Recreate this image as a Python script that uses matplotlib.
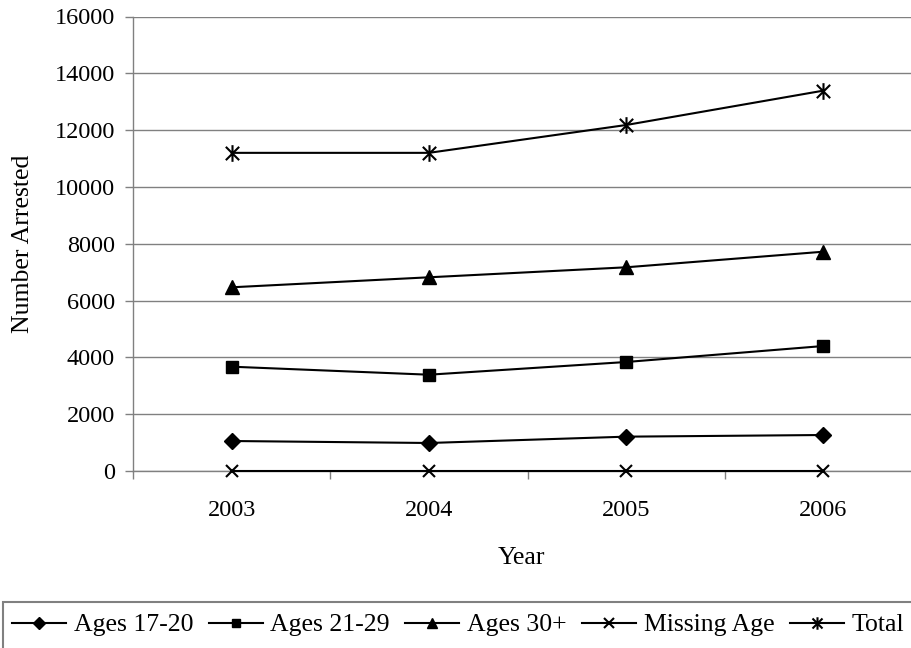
import matplotlib.pyplot as plt
import numpy as np
from matplotlib.path import Path
from matplotlib.patches import Rectangle

plt.rcParams['font.family'] = ['Liberation Serif', 'DejaVu Serif']

years = ['2003', '2004', '2005', '2006']
ages_17_20 = [1056, 986, 1209, 1267]
ages_21_29 = [3672, 3390, 3837, 4400]
ages_30_plus = [6467, 6819, 7171, 7720]
missing_age = [0, 0, 0, 0]
total = [11200, 11200, 12180, 13390]

# six-armed asterisk marker: an x with a vertical bar through it
star_path = Path(
    [(-1, -1), (1, 1), (-1, 1), (1, -1), (0, -1.25), (0, 1.25)],
    [Path.MOVETO, Path.LINETO, Path.MOVETO, Path.LINETO, Path.MOVETO, Path.LINETO])

def main():
    W, H = 911, 648
    fig = plt.figure(figsize=(W / 100, H / 100), dpi=100)
    # plot area runs past the right edge, like the cropped original
    ax = fig.add_axes([133 / W, 1 - 471 / H, (922 - 133) / W, (471 - 16.5) / H])

    x = np.arange(len(years))
    lw = 1.5
    series = [
        (ages_17_20, 'Ages 17-20', dict(marker='D', markersize=8)),
        (ages_21_29, 'Ages 21-29', dict(marker='s', markersize=8)),
        (ages_30_plus, 'Ages 30+', dict(marker='^', markersize=10)),
        (missing_age, 'Missing Age', dict(marker='x', markersize=9, markeredgewidth=1.5)),
        (total, 'Total', dict(marker=star_path, markersize=12, markeredgewidth=1.5,
                              markerfacecolor='none')),
    ]
    for vals, name, style in series:
        ax.plot(x, vals, color='black', linewidth=lw, label=name, clip_on=False,
                zorder=3, **style)

    ax.set_xlim(-0.5, 3.5)
    ax.set_ylim(0, 16000)
    ax.set_yticks(np.arange(0, 16001, 2000))
    ax.yaxis.grid(True, color='#808080', linewidth=1.0)
    ax.set_axisbelow(True)

    # category boundaries carry the tick marks, labels sit at the centres
    ax.set_xticks(np.arange(-0.5, 4, 1))
    ax.set_xticklabels([])
    ax.set_xticks(x, minor=True)
    ax.set_xticklabels(years, minor=True)
    ax.tick_params(axis='x', which='major', length=6, width=1, color='#808080', direction='out')
    ax.tick_params(axis='x', which='minor', length=0, pad=21, labelsize=17.5)
    ax.tick_params(axis='y', length=6, width=1, color='#808080', pad=7, labelsize=17.5)

    for side in ['top', 'right']:
        ax.spines[side].set_visible(False)
    for side in ['left', 'bottom']:
        ax.spines[side].set_color('#808080')
        ax.spines[side].set_linewidth(1.0)

    fig.text(23 / W, 1 - 244 / H, 'Number Arrested', rotation=90, fontsize=18.5,
             ha='center', va='center')
    fig.text(521 / W, 1 - 558 / H, 'Year', fontsize=18.5, ha='center', va='center')

    fig.legend(loc='center left', bbox_to_anchor=(12 / W, 1 - 625 / H), ncol=5,
               frameon=False, fontsize=18.5, handlelength=2.1, handletextpad=0.3,
               columnspacing=0.6, borderaxespad=0, borderpad=0, markerscale=0.75)
    fig.patches.append(Rectangle((3 / W, -0.05), 1.0, (H - 602) / H + 0.05,
                                 transform=fig.transFigure, fill=False,
                                 edgecolor='#808080', linewidth=1.5))

    fig.savefig('out.png', dpi=100)

if __name__ == '__main__':
    main()
